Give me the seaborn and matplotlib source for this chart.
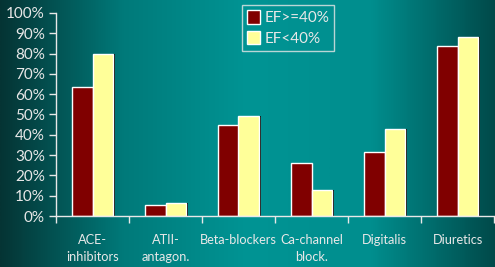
import numpy as np
import pandas as pd
import matplotlib
matplotlib.use("Agg")
import matplotlib.pyplot as plt
import matplotlib.patheffects as pe
from matplotlib.colors import LinearSegmentedColormap
from matplotlib.ticker import FixedLocator, PercentFormatter
import seaborn as sns

categories = ["ACE-\ninhibitors", "ATII-\nantagon.", "Beta-blockers", "Ca-channel\nblock.", "Digitalis", "Diuretics"]
ef_ge40 = [63.5, 5.4, 44.8, 26, 31.5, 83.7]
ef_lt40 = [80, 6.4, 49.3, 12.8, 42.9, 88.2]
series = ["EF>=40%", "EF<40%"]
colors = ["#800000", "#ffff99"]

df = pd.DataFrame({
    "cat": categories * 2,
    "val": ef_ge40 + ef_lt40,
    "series": [series[0]] * 6 + [series[1]] * 6,
})

sns.set_theme(style="white")
plt.rcParams["font.family"] = ["Lato", "DejaVu Sans"]

fig = plt.figure(figsize=(4.95, 2.67), dpi=100)
# background gradient
bg = fig.add_axes([0, 0, 1, 1], zorder=-10)
cmap = LinearSegmentedColormap.from_list("bg", ["#053434", "#007a7a", "#009494", "#008e8e", "#004a4a"])
grad = np.linspace(0, 1, 512).reshape(1, -1)
bg.imshow(grad, aspect="auto", cmap=cmap, extent=[0, 1, 0, 1])
bg.set_axis_off()

ax = fig.add_axes([56 / 495, 51 / 267, 438 / 495, 203 / 267])
ax.patch.set_alpha(0)
sns.barplot(data=df, x="cat", y="val", hue="series", palette=colors, width=0.575,
            saturation=1, ax=ax, legend=True)
for p in ax.patches:
    p.set_path_effects([pe.SimplePatchShadow(offset=(1.2, 0), shadow_rgbFace="black", alpha=1), pe.Normal()])

ax.set_xlim(-0.5, 5.5)
ax.set_ylim(0, 100)
ax.set_xlabel("")
ax.set_ylabel("")
ax.yaxis.set_major_locator(FixedLocator(np.arange(0, 101, 10)))
ax.yaxis.set_major_formatter(PercentFormatter(decimals=0))
ax.xaxis.set_minor_locator(FixedLocator(np.arange(-0.5, 6, 1)))
tc = "#e8e8e8"
ax.tick_params(axis="x", which="major", length=0, pad=13, labelsize=9.2, colors=tc)
ax.tick_params(axis="x", which="minor", length=5, width=1, color=tc, direction="out", bottom=True)
ax.tick_params(axis="y", which="major", length=5, width=1, color=tc, left=True, labelsize=11, labelcolor=tc, pad=3)
for lbl in ax.get_xticklabels():
    lbl.set_linespacing(1.45)
for s in ["top", "right"]:
    ax.spines[s].set_visible(False)
for s in ["left", "bottom"]:
    ax.spines[s].set_color(tc)
    ax.spines[s].set_linewidth(1)

leg = ax.legend(loc="upper left", bbox_to_anchor=(186 / 438, 1.04), frameon=True, fancybox=False,
                fontsize=11, handlelength=0.8, handleheight=1.0, handletextpad=0.3,
                borderpad=0.35, labelspacing=0.35, borderaxespad=0)
leg.get_frame().set_facecolor("none")
leg.get_frame().set_edgecolor("#e8e8e8")
leg.get_frame().set_linewidth(1)
for t in leg.get_texts():
    t.set_color(tc)

fig.savefig("out.png", dpi=100)
